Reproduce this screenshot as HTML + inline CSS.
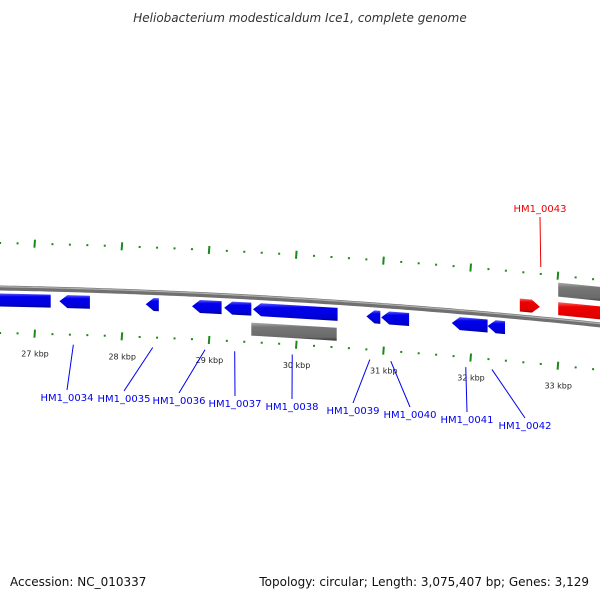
<!DOCTYPE html>
<html><head><meta charset="utf-8"><style>
body{margin:0;background:#fff}
svg{display:block;font-family:"DejaVu Sans","Liberation Sans",sans-serif}
</style></head><body>
<svg id="map" width="600" height="600" viewBox="0 0 600 600" xmlns="http://www.w3.org/2000/svg">
<defs>
<linearGradient id="gb" x1="0" y1="0" x2="0" y2="1"><stop offset="0" stop-color="#5a5aff"/><stop offset="0.25" stop-color="#0000ee"/><stop offset="0.8" stop-color="#0000d8"/><stop offset="1" stop-color="#00008a"/></linearGradient>
<linearGradient id="gr" x1="0" y1="0" x2="0" y2="1"><stop offset="0" stop-color="#ff6a6a"/><stop offset="0.25" stop-color="#ee0000"/><stop offset="0.8" stop-color="#e00000"/><stop offset="1" stop-color="#8a0000"/></linearGradient>
<linearGradient id="gg" x1="0" y1="0" x2="0" y2="1"><stop offset="0" stop-color="#aaaaaa"/><stop offset="0.25" stop-color="#777777"/><stop offset="0.8" stop-color="#6a6a6a"/><stop offset="1" stop-color="#333333"/></linearGradient>
</defs>
<text x="300" y="22" text-anchor="middle" font-size="12" font-style="italic" fill="#333">Heliobacterium modesticaldum Ice1, complete genome</text>
<g id="ticks"></g>
<path id="backbone" fill="none" stroke="#707070" stroke-width="5"/>
<path id="backbone-hl" fill="none" stroke="#b0b0b0" stroke-width="1.2"/>
<g id="genes"></g>
<g id="labels"></g>
<text x="10" y="586" font-size="12" fill="#111">Accession: NC_010337</text>
<text x="589" y="586" font-size="12" fill="#111" text-anchor="end">Topology: circular; Length: 3,075,407 bp; Genes: 3,129</text>
</svg>
<script>
// gene data (kbp)
const geneNames = ["g1","HM1_0034","HM1_0035","HM1_0036","HM1_0037","HM1_0038","HM1_0039","HM1_0040","HM1_0041","HM1_0042","HM1_0043","g12","g14"];
const geneStarts = [26.5,27.28,28.27,28.80,29.17,29.50,30.80,30.97,31.78,32.19,32.56,33.0,29.48];
const geneEnds =   [27.18,27.63,28.42,29.14,29.48,30.47,30.96,31.29,32.19,32.39,32.79,33.7,30.46];
const geneStrand = [-1,-1,-1,-1,-1,-1,-1,-1,-1,-1,1,1,-2];
const labelNames = ["HM1_0034","HM1_0035","HM1_0036","HM1_0037","HM1_0038","HM1_0039","HM1_0040","HM1_0041","HM1_0042","HM1_0043"];
const labelAnchor = [27.44,28.35,28.95,29.29,29.95,30.84,31.08,31.94,32.24,32.8];
const labelX = [67,124,179,235,292,353,410,467,525,540];
const labelY = [401,402,404,407,410,414,418,423,429,212];
const tickKbp = [27,28,29,30,31,32,33];

const NS="http://www.w3.org/2000/svg";
const X=k=>35+(k-27)*87.2;
const Yb=x=>288+0.0183*x+7.2e-5*x*x;
function mk(tag,attrs,parent){const e=document.createElementNS(NS,tag);for(const k in attrs)e.setAttribute(k,attrs[k]);parent.appendChild(e);return e;}

let d="";for(let x=-5;x<=605;x+=5)d+=(x<0?"M":"L")+x+","+Yb(x).toFixed(1)+" ";
document.getElementById('backbone').setAttribute('d',d);
let d2="";for(let x=-5;x<=605;x+=5)d2+=(x<0?"M":"L")+x+","+(Yb(x)-1.3).toFixed(1)+" ";
document.getElementById('backbone-hl').setAttribute('d',d2);

const tg=document.getElementById('ticks');
for(let i=0;i<=40;i++){
  const k=26.4+i*0.2;const x=X(k);if(x<-5||x>605)continue;
  const major=Math.abs(k-Math.round(k))<0.01;
  [-45,45].forEach(off=>{
    const y=Yb(x)+off;
    const t=mk('line',{x1:x,x2:x+(major?-0.6:0),y1:y-(major?4:1),y2:y+(major?4:1),stroke:'#1a8a1a','stroke-width':2},tg);
    
    
  });
}
tickKbp.forEach(k=>{
  const x=X(k);
  const t=mk('text',{x:x,y:Yb(x)+68,'text-anchor':'middle','font-size':8,fill:'#222'},tg);
  t.textContent=k+" kbp";
  
  
});

const gg=document.getElementById('genes');
geneNames.forEach((n,i)=>{
  const s=geneStrand[i];
  const x1=X(geneStarts[i]),x2=X(geneEnds[i]);
  const off= s===-1?12:(s===-2?32:-12);
  const h=13;
  const fill= s===1?'url(#gr)':(s===-2?'url(#gg)':'url(#gb)');
  const T=x=>Yb(x)+off-h/2, B=x=>Yb(x)+off+h/2, C=x=>Yb(x)+off;
  let pts;const hl=8;
  if(s===-1 && i!==0){pts=[[x1,C(x1)],[x1+hl,T(x1+hl)],[x2,T(x2)],[x2,B(x2)],[x1+hl,B(x1+hl)]];}
  else if(s===1 && i===10){pts=[[x1,T(x1)],[x2-hl,T(x2-hl)],[x2,C(x2)],[x2-hl,B(x2-hl)],[x1,B(x1)]];}
  else pts=[[x1,T(x1)],[x2,T(x2)],[x2,B(x2)],[x1,B(x1)]];
  const p=mk('polygon',{points:pts.map(q=>q[0].toFixed(1)+","+q[1].toFixed(1)).join(" "),fill:fill},gg);
  
  
});
(function(){
  const x1=X(33.0),x2=610;const T=x=>Yb(x)-31-7,B=x=>Yb(x)-31+7;
  const p=mk('polygon',{points:`${x1},${T(x1)} ${x2},${T(x2)} ${x2},${B(x2)} ${x1},${B(x1)}`,fill:'url(#gg)'},gg);
  
  
})();

const lg=document.getElementById('labels');
labelNames.forEach((n,i)=>{
  const ax=X(labelAnchor[i]);const fwd=labelY[i]<300;
  const ay=fwd?Yb(ax)-52:Yb(ax)+55;
  const col=fwd?'#ee0000':'#0000ee';
  const ly=fwd?labelY[i]+5:labelY[i]-11;
  const l=mk('line',{x1:ax,y1:ay,x2:labelX[i],y2:ly,stroke:col,'stroke-width':1},lg);
  
  
  const t=mk('text',{x:labelX[i],y:labelY[i],'text-anchor':'middle','font-size':10,fill:col},lg);
  t.textContent=n;
  
  
});
</script>
</body></html>
